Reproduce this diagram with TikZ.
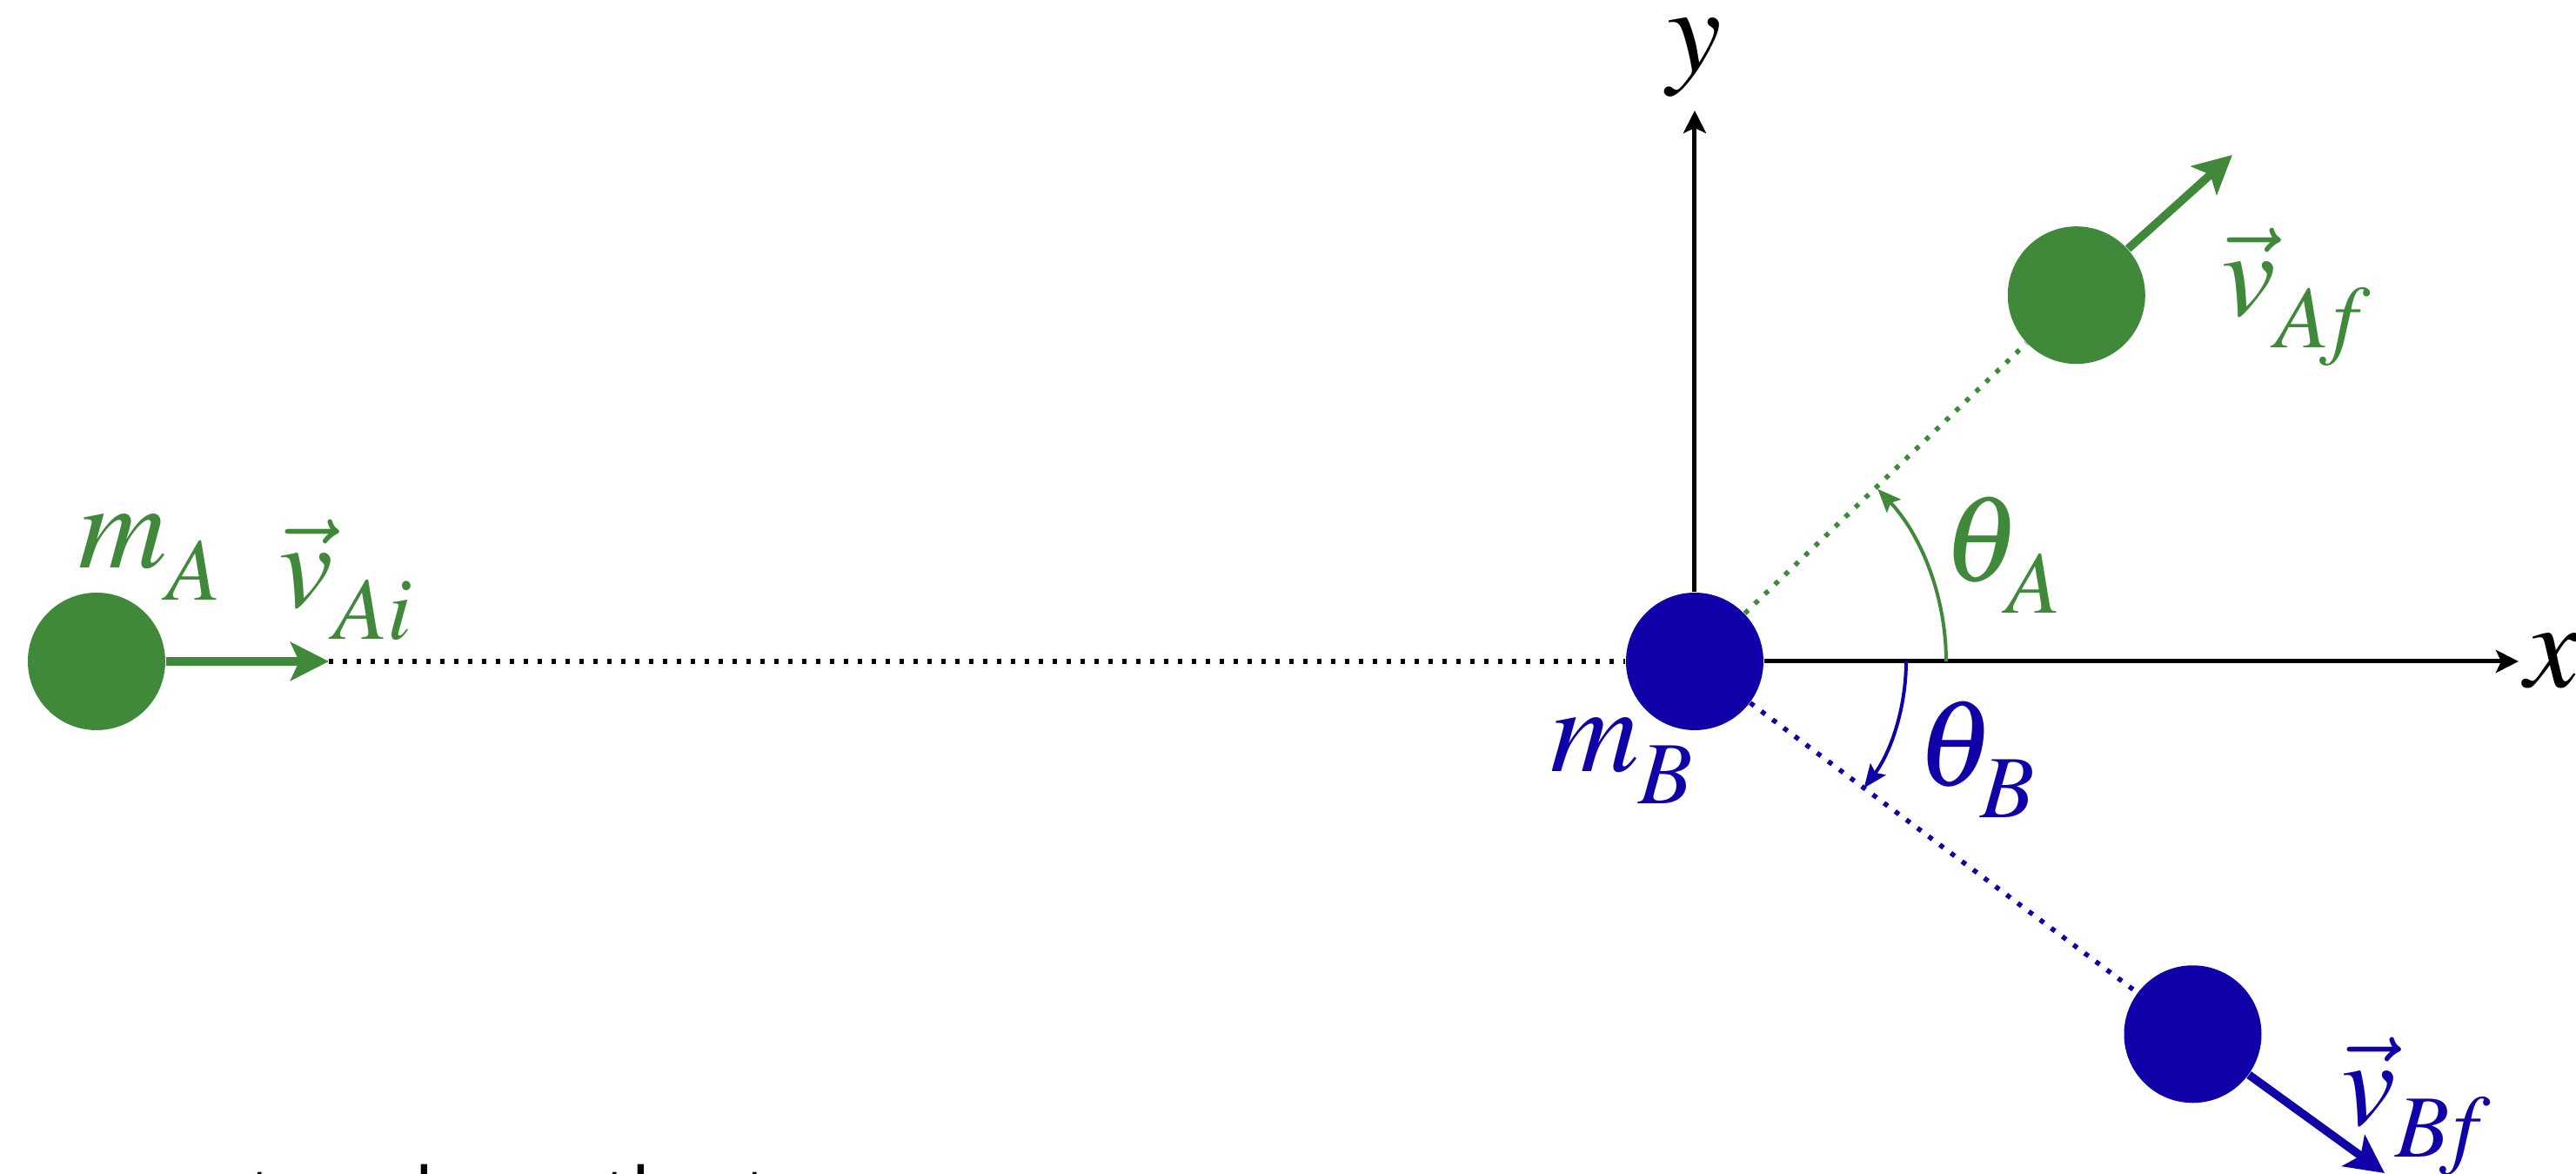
\documentclass[tikz,border=0pt]{standalone}
\usepackage{mathptmx}
\usepackage{fontspec}
\usetikzlibrary{arrows.meta, positioning}
\definecolor{verde}{RGB}{65,137,58}
\definecolor{azul}{RGB}{15,0,168}
\newfontfamily\textopie{Open Sans}
\newcommand{\bajo}[1]{_{\raisebox{-0.11em}{\fontsize{29}{30}\selectfont$#1$}}}

\begin{document}
\begin{tikzpicture}[
  bola/.style={circle, minimum size=1.58cm, inner sep=0pt},
  etiqueta/.style={inner sep=0pt, font=\fontsize{40}{48}\selectfont},
  vector/.style={line width=0.095cm,
    -{Stealth[length=0.44cm, width=0.44cm, inset=0.1cm]}},
  eje/.style={line width=0.05cm,
    -{Stealth[length=0.26cm, width=0.26cm, inset=0.06cm]}},
  arco/.style={line width=0.04cm,
    -{Stealth[length=0.27cm, width=0.22cm, inset=0.05cm]}},
  punteada/.style={line width=0.055cm, dash pattern=on 0.055cm off 0.105cm}
]
  \useasboundingbox (-19.48,-5.89) rectangle (10.13,7.60);
  \node[bola, fill=verde] (bolaA) at (-18.37,0) {};
  \node[bola, fill=azul] (bolaB) at (0,0) {};
  \node[bola, fill=verde] (bolaAf) at (43.8:6.08) {};
  \node[bola, fill=azul] (bolaBf) at (-36.8:7.15) {};

  \coordinate (puntaAi) at (-15.70,0);
  \coordinate (puntaAf) at (6.18,5.82);
  \coordinate (puntaBf) at (7.93,-5.88);
  \coordinate (finx) at (9.47,0);
  \coordinate (finy) at (0,6.33);

  \draw[punteada] (puntaAi) -- (bolaB);
  \draw[punteada, verde] (bolaB) -- (bolaAf);
  \draw[punteada, azul] (bolaB) -- (bolaBf);
  \draw[eje] (bolaB) -- (finx);
  \draw[eje] (bolaB) -- (finy);
  \draw[vector, verde] (bolaA) -- (puntaAi);
  \draw[vector, verde] (bolaAf) -- (puntaAf);
  \draw[vector, azul] (bolaBf) -- (puntaBf);
  \draw[arco, verde] (2.89,0) arc[start angle=0, end angle=43.3, radius=2.89];
  \draw[arco, azul] (2.43,0) arc[start angle=0, end angle=-36.8, radius=2.43];

  \node[etiqueta, verde, anchor=base] (masaA) at (-17.75,1.07) {$m\bajo{A}$};
  \node[etiqueta, verde, anchor=base] (velAi) at (-15.50,0.62) {$\vec{v}\bajo{Ai}$};
  \node[etiqueta, azul, anchor=base] (masaB) at (-0.83,-1.27) {$m\bajo{B}$};
  \node[etiqueta, verde, anchor=base] (angA) at (3.54,0.92) {$\theta\bajo{A}$};
  \node[etiqueta, azul, anchor=base] (angB) at (3.24,-1.43) {$\theta\bajo{B}$};
  \node[etiqueta, verde, anchor=base] (velAf) at (6.92,3.97) {$\vec{v}\bajo{A\!f}$};
  \node[etiqueta, azul, anchor=base] (velBf) at (8.30,-5.33) {$\vec{v}\bajo{B\!f}$};
  \node[etiqueta, right=0.07cm of finx] (rotx) {$x$};
  \node[etiqueta, above=0.15cm of finy] (roty) {$y$};
  \node[inner sep=0pt, anchor=base west, font=\textopie\fontsize{25.6}{30}\selectfont]
    (pie) at (-18.45,-6.47) {must scale so the two};
\end{tikzpicture}
\end{document}
